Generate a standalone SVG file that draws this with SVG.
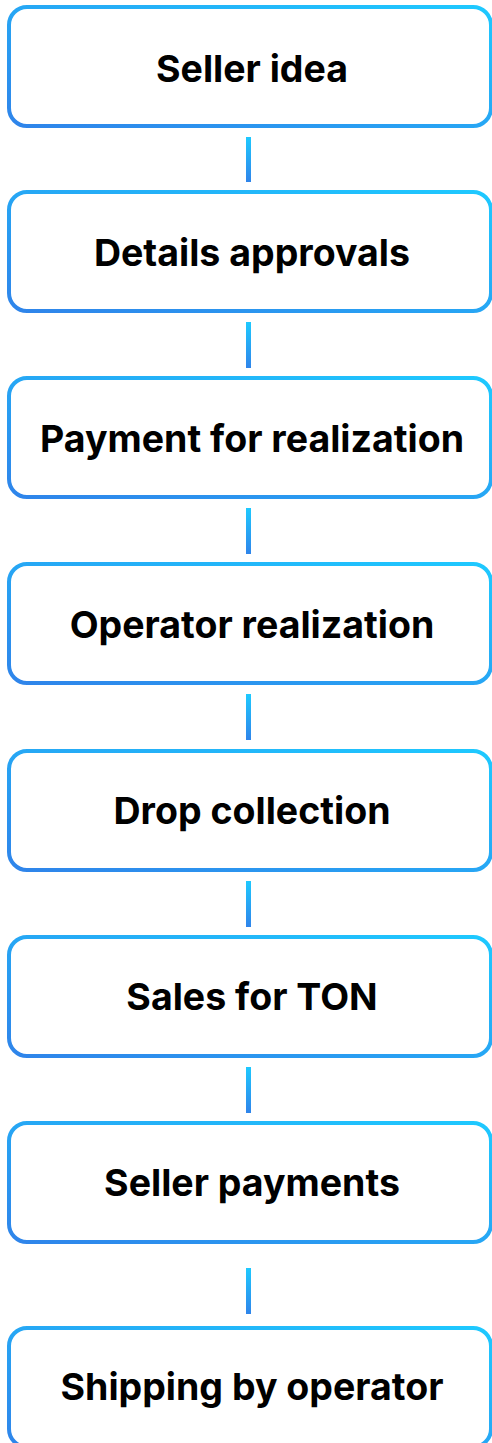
<svg xmlns="http://www.w3.org/2000/svg" width="492" height="1443" viewBox="0 0 492 1443">
<defs>
<linearGradient id="boxg" x1="0" y1="1" x2="1" y2="0">
<stop offset="0" stop-color="#2f84ea"/>
<stop offset="1" stop-color="#1ec9ff"/>
</linearGradient>
<linearGradient id="lineg" x1="0" y1="0" x2="0" y2="1">
<stop offset="0" stop-color="#1ec9ff"/>
<stop offset="1" stop-color="#2f84ea"/>
</linearGradient>
</defs>
<style>
.box{fill:#fff;stroke:url(#boxg);stroke-width:4}
.lbl{font-family:Inter,"Liberation Sans",sans-serif;font-weight:700;font-size:37.5px;fill:#000;text-anchor:middle;dominant-baseline:central}
.conn{fill:url(#lineg)}
</style>
<g id="connectors">
<rect class="conn" x="246" y="137" width="5" height="45"/>
<rect class="conn" x="246" y="322" width="5" height="46"/>
<rect class="conn" x="246" y="508" width="5" height="46"/>
<rect class="conn" x="246" y="694" width="5" height="46"/>
<rect class="conn" x="246" y="881" width="5" height="46"/>
<rect class="conn" x="246" y="1067" width="5" height="46"/>
<rect class="conn" x="246" y="1268" width="5" height="46"/>
</g>
<g id="n1"><rect class="box" x="9" y="7" width="482" height="119" rx="18"/><text class="lbl" x="252" y="68">Seller idea</text></g>
<g id="n2"><rect class="box" x="9" y="192" width="482" height="119" rx="18"/><text class="lbl" x="252" y="252">Details approvals</text></g>
<g id="n3"><rect class="box" x="9" y="378" width="482" height="119" rx="18"/><text class="lbl" x="252" y="438">Payment for realization</text></g>
<g id="n4"><rect class="box" x="9" y="564" width="482" height="119" rx="18"/><text class="lbl" x="252" y="624">Operator realization</text></g>
<g id="n5"><rect class="box" x="9" y="751" width="482" height="119" rx="18"/><text class="lbl" x="252" y="810">Drop collection</text></g>
<g id="n6"><rect class="box" x="9" y="937" width="482" height="119" rx="18"/><text class="lbl" x="252" y="996">Sales for TON</text></g>
<g id="n7"><rect class="box" x="9" y="1123" width="482" height="119" rx="18"/><text class="lbl" x="252" y="1182">Seller payments</text></g>
<g id="n8"><rect class="box" x="9" y="1328" width="482" height="119" rx="18"/><text class="lbl" x="252" y="1386">Shipping by operator</text></g>
</svg>
